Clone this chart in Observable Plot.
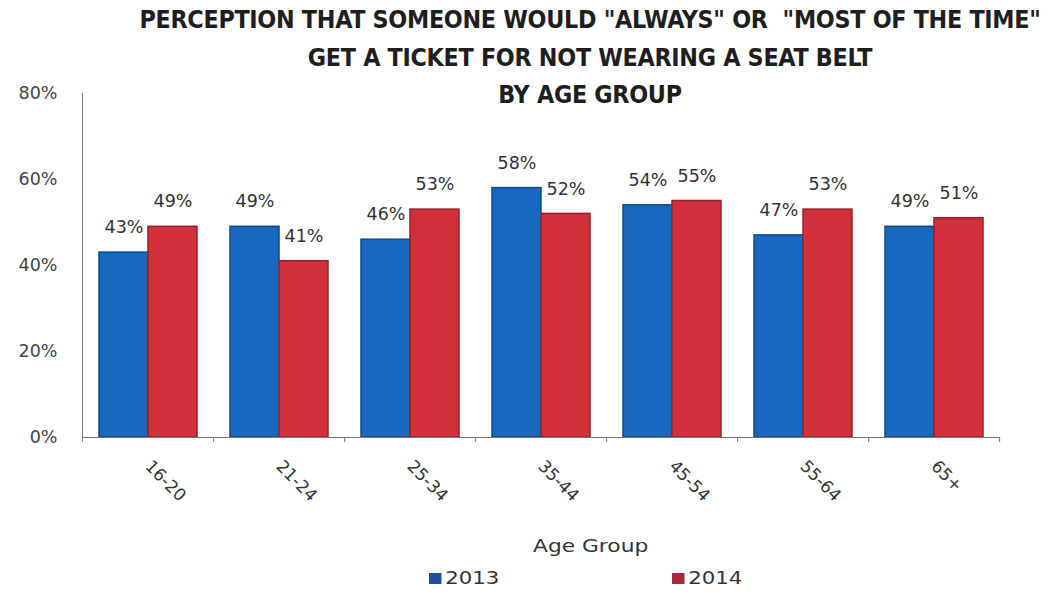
<!DOCTYPE html>
<html><head><meta charset="utf-8">
<script src="https://cdn.jsdelivr.net/npm/d3@7"></script>
<script src="https://cdn.jsdelivr.net/npm/@observablehq/plot@0.6"></script>
<style>
body{margin:0;background:#fff;width:1051px;height:592px;overflow:hidden;position:relative;font-family:"DejaVu Sans",sans-serif}
#title{position:absolute;left:0;width:1180px;top:1px;text-align:center;font-family:"DejaVu Sans Condensed",sans-serif;font-weight:bold;font-size:24.8px;line-height:37.5px;color:#1e1e1e;z-index:2;letter-spacing:-0.3px}
#chart{position:absolute;left:0;top:0}
#xlabel{position:absolute;left:533px;top:536px;font-size:17px;color:#333;transform:scaleX(1.28);transform-origin:0 0;white-space:nowrap}
#legend{position:absolute;top:568px;left:0;width:1051px;font-size:17px;color:#333}
.lg{position:absolute;display:flex;align-items:center;transform:scaleX(1.25);transform-origin:0 0}
.sw{width:10px;height:11px;margin-right:3px;display:inline-block}
</style></head>
<body>
<div id="title"></div>
<div id="chart"></div>
<div id="xlabel"></div>
<div id="legend"></div>
<script>
const titleLines = ['PERCEPTION THAT SOMEONE WOULD "ALWAYS" OR  "MOST OF THE TIME"', 'GET A TICKET FOR NOT WEARING A SEAT BELT', 'BY AGE GROUP'];
const ages = ["16-20","21-24","25-34","35-44","45-54","55-64","65+"];
const years = ["2013","2014"];
const v2013 = [43,49,46,58,54,47,49];
const v2014 = [49,41,53,52,55,53,51];
const yTicks = [0,20,40,60,80];
const fills = ["#1868c0","#d0313a"];
const strokes = ["#0f4a8c","#98202a"];
const legendFills = ["#1f4f9c","#a8283a"];
const xLabel = "Age Group";

const data = ages.flatMap((a,i)=>[
  {age:a, year:years[0], value:v2013[i]},
  {age:a, year:years[1], value:v2014[i]}
]);

document.getElementById("title").innerHTML = titleLines.map(t=>`<div style="white-space:pre">${t}</div>`).join("");
document.getElementById("xlabel").textContent = xLabel;

const W = 1051, H = 592, mL = 81, mR = 51, mT = 93, mB = 155;
const step = (W - mL - mR) / ages.length;

const chart = Plot.plot({
  width:W, height:H,
  marginTop:mT, marginBottom:mB, marginLeft:mL, marginRight:mR,
  style:{fontFamily:"'DejaVu Sans', sans-serif", color:"#333", background:"transparent"},
  fx:{domain:ages, padding:0, label:null, axis:null},
  x:{domain:years, axis:null, paddingInner:0, paddingOuter:0.316},
  y:{domain:[0,80], axis:null},
  color:{domain:years, range:fills},
  marks:[
    Plot.barY(data,{fx:"age", x:"year", y:"value", fill:"year",
      stroke:d=>strokes[years.indexOf(d.year)], strokeWidth:1.5}),
    Plot.text(data,{fx:"age", x:"year", y:"value", text:d=>d.value+"%", dy:-25, fontSize:17.5, fill:"#333"}),
    Plot.frame({anchor:"left", facet:"super", stroke:"#777"}),
    Plot.frame({anchor:"bottom", facet:"super", stroke:"#777"}),
    Plot.axisY({ticks:yTicks, tickFormat:d=>d+"%", tickSize:0, tickPadding:25, fontSize:17.5, fill:"#444", label:null}),
    Plot.axisFx({domain:ages, anchor:"bottom", tickRotate:45, textAnchor:"start", tickSize:0, tickPadding:26, fontSize:17, fill:"#333", label:null}),
    Plot.axisFx({domain:ages, anchor:"bottom", tickSize:5, tickFormat:()=>"", dx:step/2, stroke:"#777", label:null}),
    Plot.axisFx({domain:ages, ticks:[ages[0]], anchor:"bottom", tickSize:5, tickFormat:()=>"", dx:-step/2, stroke:"#777", label:null})
  ]
});
document.getElementById("chart").appendChild(chart);

const lg = document.getElementById("legend");
const lgX = [429, 672];
years.forEach((y,i)=>{
  const d = document.createElement("div");
  d.className="lg"; d.style.left = lgX[i]+"px";
  d.innerHTML = `<span class="sw" style="background:${legendFills[i]}"></span>${y}`;
  lg.appendChild(d);
});
</script>
</body></html>
